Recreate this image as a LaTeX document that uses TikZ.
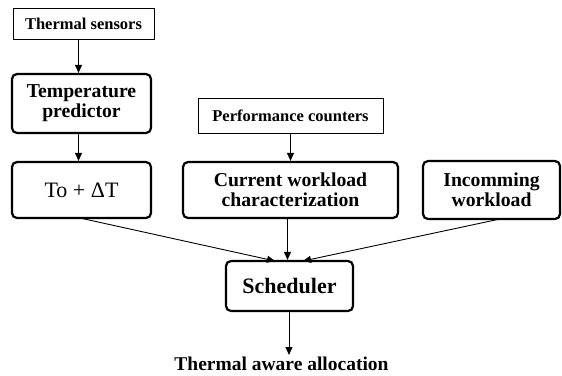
\documentclass[tikz,border=0pt]{standalone}
\usepackage{fontspec}
\setmainfont{Liberation Serif}
\usetikzlibrary{arrows.meta}
\begin{document}
\begin{tikzpicture}[x=1bp,y=-1bp,
  thinbox/.style={draw, line width=0.8bp, inner sep=0pt, align=center, font=\fontsize{16.5bp}{18bp}\selectfont\bfseries},
  thickbox/.style={draw, line width=2.2bp, rounded corners=5bp, inner sep=0pt, align=center, font=\fontsize{19.7bp}{20bp}\selectfont\bfseries},
  arr/.style={line width=0.9bp, -{Triangle[length=8bp,width=7bp]}}]
\useasboundingbox (0,0) rectangle (562,375);
\node[thinbox, minimum width=141bp, minimum height=31bp] (sensors) at (83.5,23.5) {Thermal sensors};
\node[thickbox, minimum width=139bp, minimum height=59bp] (pred) at (81.5,103.5) {Temperature\\predictor};
\node[thickbox, minimum width=139bp, minimum height=56bp, font=\fontsize{22bp}{24bp}\selectfont] (to) at (81.5,190) {To + ΔT};
\node[thinbox, minimum width=185bp, minimum height=35bp] (perf) at (290.5,115.5) {Performance counters};
\node[thickbox, minimum width=215bp, minimum height=56bp] (cur) at (290.5,190) {Current workload\\characterization};
\node[thickbox, minimum width=137bp, minimum height=58bp] (inc) at (491.5,190) {Incomming\\workload};
\node[thickbox, minimum width=127bp, minimum height=50bp, font=\fontsize{22bp}{24bp}\selectfont\bfseries] (sch) at (289.5,286) {Scheduler};
\node[anchor=base, inner sep=0pt, font=\fontsize{19.5bp}{20bp}\selectfont\bfseries] (out) at (281.5,370) {Thermal aware allocation};
\coordinate (xa) at (78.5,0);
\coordinate (xc) at (287.5,0);
\coordinate (xs) at (289,0);
\coordinate (tl) at (80,218);
\coordinate (tt) at (275,261);
\coordinate (il) at (500,219);
\coordinate (it) at (303,261);
\coordinate (oe) at (289,355);
\draw[arr] (sensors.south -| xa) -- (pred.north -| xa);
\draw[arr] (pred.south -| xa) -- (to.north -| xa);
\draw[arr] (perf.south) -- (cur.north);
\draw[arr] (cur.south -| xc) -- (sch.north -| xc);
\draw[arr] (tl) -- (tt);
\draw[arr] (il) -- (it);
\draw[arr] (sch.south -| xs) -- (oe);
\end{tikzpicture}
\end{document}
